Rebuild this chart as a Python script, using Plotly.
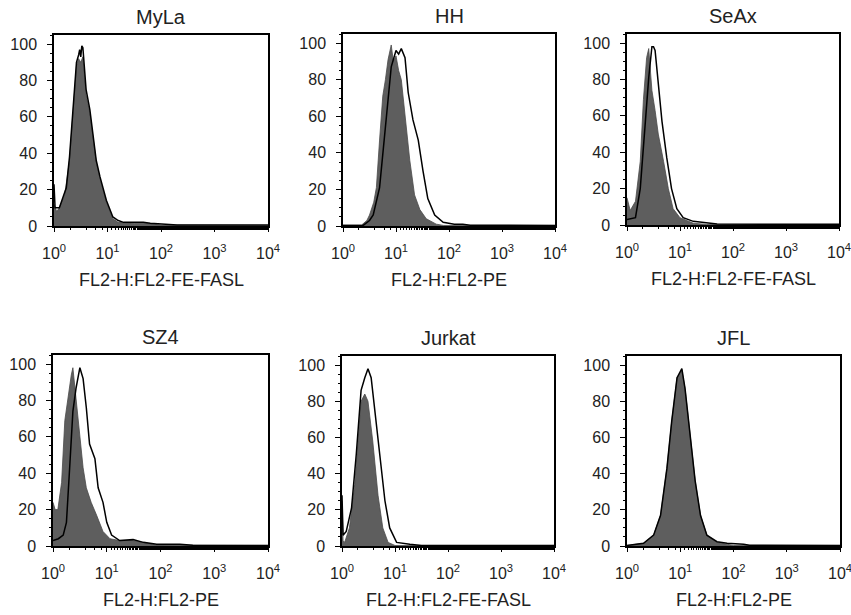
import plotly.graph_objects as go

# Panel names and x-axis labels
panel_names = ['MyLa', 'HH', 'SeAx', 'SZ4', 'Jurkat', 'JFL']
axis_labels = ['FL2-H:FL2-FE-FASL', 'FL2-H:FL2-PE', 'FL2-H:FL2-FE-FASL',
               'FL2-H:FL2-PE', 'FL2-H:FL2-FE-FASL', 'FL2-H:FL2-PE']

# Histogram outlines: channel position in decades (log10), counts
myla_fill_lx = [0.0, 0.05, 0.1, 0.2, 0.29, 0.36, 0.42, 0.46, 0.5, 0.54, 0.6, 0.67, 0.73, 0.79, 0.86, 0.98, 1.1, 1.2, 1.5, 1.7, 2.0, 4.0]
myla_fill_y = [12, 8, 10, 17, 36, 62, 88, 92, 90, 93, 72, 62, 49, 35, 26, 13, 4, 2, 1.5, 1.5, 0.5, 0.3]
myla_line_lx = [0.0, 0.02, 0.1, 0.2, 0.23, 0.29, 0.36, 0.42, 0.46, 0.48, 0.5, 0.52, 0.54, 0.57, 0.6, 0.67, 0.73, 0.79, 0.86, 0.98, 1.1, 1.2, 1.3, 1.5, 1.67, 1.8, 2.0, 2.3, 4.0]
myla_line_y = [23, 10, 10, 18, 21, 38, 64, 90, 94, 97, 93, 99, 98, 85, 75, 64, 51, 36, 27, 14, 5, 3, 2, 2, 2, 1.5, 1, 0.5, 0.5]

hh_fill_lx = [0.0, 0.35, 0.45, 0.5, 0.58, 0.63, 0.69, 0.75, 0.8, 0.85, 0.91, 0.95, 1.0, 1.05, 1.1, 1.17, 1.26, 1.35, 1.45, 1.57, 1.76, 1.9, 4.0]
hh_fill_y = [0.5, 0.5, 3, 6, 13, 21, 47, 71, 80, 91, 99, 90, 93, 85, 80, 60, 36, 17, 9, 4, 1, 0.3, 0.3]
hh_line_lx = [0.0, 0.38, 0.5, 0.57, 0.69, 0.75, 0.82, 0.91, 0.96, 1.0, 1.05, 1.1, 1.17, 1.23, 1.32, 1.42, 1.51, 1.6, 1.73, 1.89, 2.1, 2.26, 2.4, 4.0]
hh_line_y = [0.3, 0.3, 3, 6, 21, 40, 63, 87, 92, 96, 94, 97, 92, 73, 58, 47, 30, 15, 6, 2, 1, 1, 0.4, 0.3]

seax_fill_lx = [0.0, 0.06, 0.16, 0.25, 0.31, 0.37, 0.41, 0.44, 0.47, 0.53, 0.59, 0.69, 0.78, 0.87, 1.0, 1.25, 1.5, 4.0]
seax_fill_y = [15, 8, 13, 35, 69, 92, 97, 85, 74, 63, 50, 35, 20, 9, 4, 1, 0.3, 0.3]
seax_line_lx = [0.0, 0.16, 0.25, 0.34, 0.41, 0.47, 0.5, 0.53, 0.59, 0.66, 0.75, 0.84, 0.94, 1.06, 1.25, 1.56, 1.7, 4.0]
seax_line_y = [3, 4, 20, 57, 81, 98, 98, 96, 76, 57, 37, 20, 9, 4, 2, 1, 0.5, 0.4]

sz4_fill_lx = [0.0, 0.04, 0.09, 0.16, 0.22, 0.28, 0.34, 0.37, 0.43, 0.5, 0.56, 0.62, 0.71, 0.81, 0.93, 1.06, 1.24, 1.49, 1.68, 1.93, 4.0]
sz4_fill_y = [24, 20, 20, 35, 69, 83, 94, 98, 80, 61, 43, 32, 24, 17, 8, 4, 3, 3, 2, 0.5, 0.3]
sz4_line_lx = [0.0, 0.1, 0.19, 0.25, 0.31, 0.37, 0.43, 0.5, 0.56, 0.62, 0.68, 0.78, 0.84, 0.93, 1.0, 1.09, 1.24, 1.49, 1.68, 1.93, 2.36, 2.6, 4.0]
sz4_line_y = [3, 4, 6, 13, 43, 74, 87, 98, 92, 76, 56, 48, 32, 24, 13, 6, 3, 3.5, 2, 1, 1, 0.4, 0.3]

jurkat_fill_lx = [0.0, 0.02, 0.05, 0.14, 0.24, 0.3, 0.36, 0.43, 0.49, 0.58, 0.68, 0.77, 0.87, 1.0, 4.0]
jurkat_fill_y = [25, 3, 2, 10, 34, 56, 80, 84, 80, 58, 28, 10, 2, 0.3, 0.3]
jurkat_line_lx = [0.0, 0.02, 0.08, 0.18, 0.27, 0.36, 0.43, 0.49, 0.55, 0.62, 0.71, 0.81, 0.9, 1.03, 1.28, 1.5, 4.0]
jurkat_line_y = [28, 6, 8, 21, 51, 86, 93, 98, 93, 75, 51, 25, 10, 2, 1, 0.3, 0.3]

jfl_fill_lx = [0.0, 0.31, 0.5, 0.63, 0.75, 0.84, 0.94, 1.03, 1.09, 1.19, 1.28, 1.38, 1.5, 1.69, 1.88, 2.0, 4.0]
jfl_fill_y = [0.3, 1.5, 6, 17, 43, 69, 93, 97, 87, 61, 36, 17, 6, 2, 1, 0.3, 0.3]
jfl_line_lx = [0.0, 0.31, 0.5, 0.63, 0.75, 0.84, 0.94, 1.03, 1.09, 1.19, 1.28, 1.38, 1.5, 1.69, 1.88, 2.19, 2.3, 4.0]
jfl_line_y = [0.3, 1.5, 6, 17, 43, 69, 93, 98, 87, 61, 36, 17, 6, 2.4, 1.5, 1, 0.4, 0.3]

fills = [(myla_fill_lx, myla_fill_y), (hh_fill_lx, hh_fill_y), (seax_fill_lx, seax_fill_y),
         (sz4_fill_lx, sz4_fill_y), (jurkat_fill_lx, jurkat_fill_y), (jfl_fill_lx, jfl_fill_y)]
lines = [(myla_line_lx, myla_line_y), (hh_line_lx, hh_line_y), (seax_line_lx, seax_line_y),
         (sz4_line_lx, sz4_line_y), (jurkat_line_lx, jurkat_line_y), (jfl_line_lx, jfl_line_y)]

y_ticks = [0, 20, 40, 60, 80, 100]
x_tickvals = [1, 10, 100, 1000, 10000]
x_ticktext = ['10<sup>0</sup>', '10<sup>1</sup>', '10<sup>2</sup>', '10<sup>3</sup>', '10<sup>4</sup>']

# Plot boxes in pixels (left, right, top, bottom)
W, H = 851, 615
boxes = [(54, 268, 35, 226), (343, 555, 34, 226), (627, 839, 34, 225),
         (53, 268, 355, 546), (342, 554, 356, 546), (627, 840, 356, 546)]

FONT = 'Liberation Sans, Arial, sans-serif'
TXT = '#222222'

fig = go.Figure()
annotations = []

for i in range(6):
    n = '' if i == 0 else str(i + 1)
    xa, ya = 'x' + n, 'y' + n
    flx, fy = fills[i]
    llx, ly = lines[i]

    fig.add_trace(go.Scatter(x=[10 ** v for v in flx], y=fy, xaxis=xa, yaxis=ya,
                             mode='lines', fill='tozeroy', fillcolor='#5e5e5e',
                             line=dict(color='#4a4a4a', width=0.8), showlegend=False))
    fig.add_trace(go.Scatter(x=[10 ** v for v in llx], y=ly, xaxis=xa, yaxis=ya,
                             mode='lines', line=dict(color='black', width=1.5),
                             showlegend=False))

    l, r, t, b = boxes[i]
    fig.layout['xaxis' + n] = dict(
        type='log', range=[0, 4], domain=[l / W, r / W], anchor=ya,
        automargin=False, ticklabeloverflow='allow',
        tickvals=x_tickvals, ticktext=x_ticktext, ticks='outside', ticklen=4,
        tickcolor='black', showline=True, linecolor='black', linewidth=1.5,
        mirror=True, showgrid=False, zeroline=False, ticklabelstandoff=8,
        minor=dict(ticks='outside', ticklen=2, tickcolor='black', showgrid=False),
        tickfont=dict(family=FONT, size=16, color=TXT))
    fig.layout['yaxis' + n] = dict(
        range=[0, 105], domain=[1 - b / H, 1 - t / H], anchor=xa,
        automargin=False,
        tickvals=y_ticks, ticks='outside', ticklen=5, tickcolor='black',
        showline=True, linecolor='black', linewidth=1.5, mirror=True,
        showgrid=False, zeroline=False, ticklabelstandoff=7,
        minor=dict(ticks='outside', ticklen=2, dtick=5, tickcolor='black', showgrid=False),
        tickfont=dict(family=FONT, size=16, color=TXT))

    cx = (l + r) / 2 / W
    annotations.append(dict(text=panel_names[i], x=cx, y=1 - (t - 18) / H,
                            xref='paper', yref='paper', showarrow=False,
                            xanchor='center', yanchor='middle',
                            font=dict(family=FONT, size=20, color=TXT)))
    annotations.append(dict(text=axis_labels[i], x=cx, y=1 - (b + 54) / H,
                            xref='paper', yref='paper', showarrow=False,
                            xanchor='center', yanchor='middle',
                            font=dict(family=FONT, size=18, color=TXT)))

fig.update_layout(template='none', width=W, height=H,
                  margin=dict(l=0, r=0, t=0, b=0),
                  plot_bgcolor='white', paper_bgcolor='white',
                  annotations=annotations)

# the page's default body margin would shift the figure by 8px
fig.write_html('out.html', config={'displayModeBar': False},
               post_script="document.body.style.margin='0';")
